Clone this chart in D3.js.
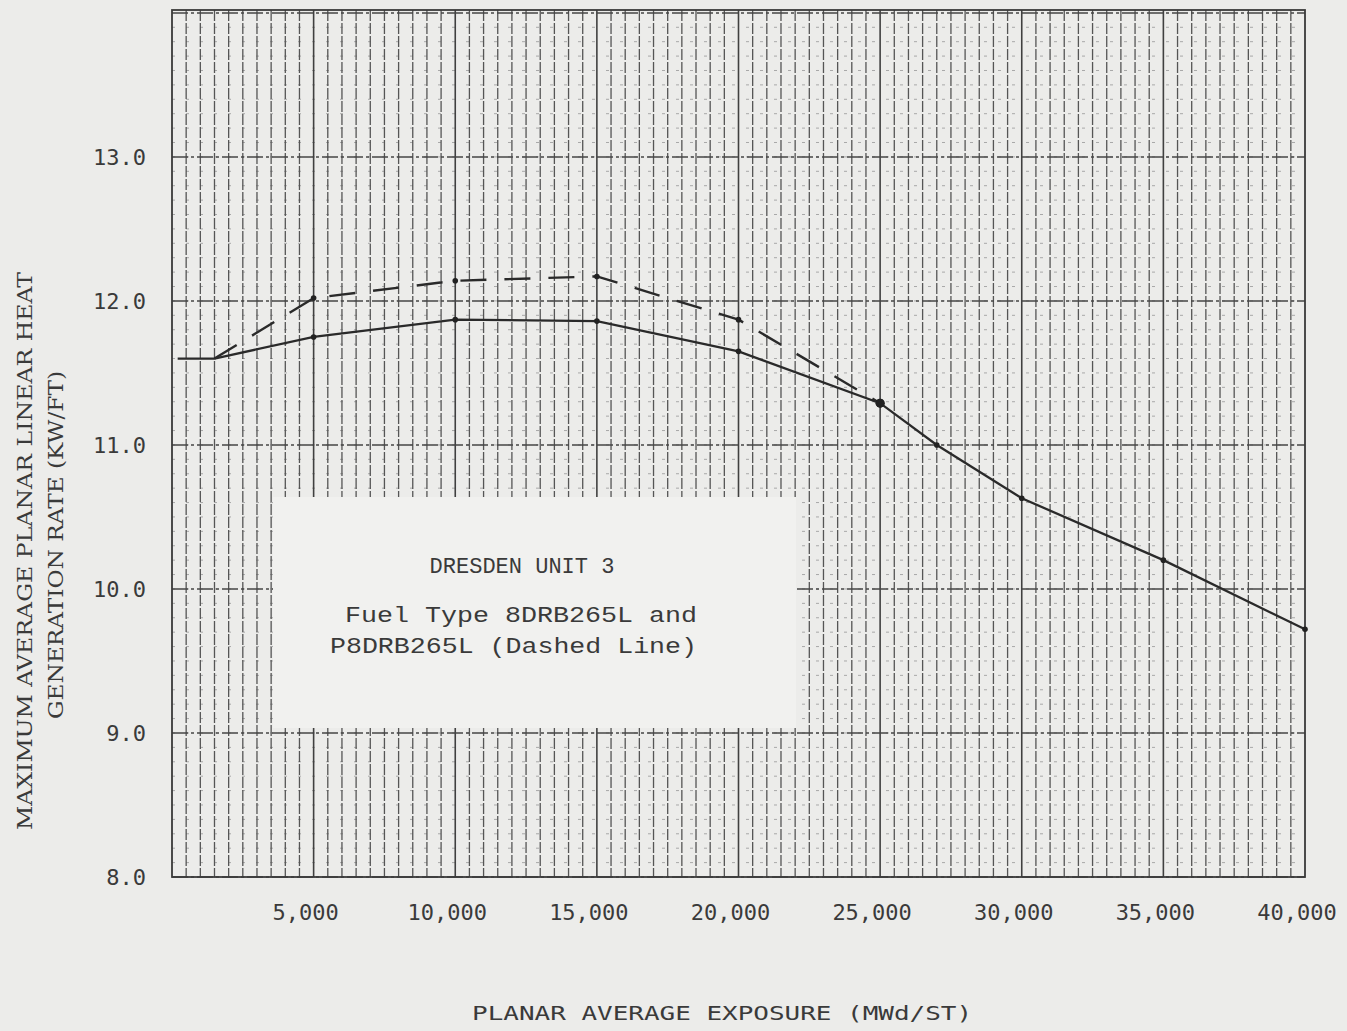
<!DOCTYPE html>
<html>
<head>
<meta charset="utf-8">
<script src="https://cdn.jsdelivr.net/npm/d3@7"></script>
<style>
  body { margin: 0; background: #ececea; }
  svg { display: block; }
</style>
</head>
<body>
<div id="chart"></div>
<script>
// exposure (MWd/ST) and MAPLHGR (KW/FT)
var solidX = [200, 1500, 5000, 10000, 15000, 20000, 25000, 27000, 30000, 35000, 40000];
var solidY = [11.6, 11.6, 11.75, 11.87, 11.86, 11.65, 11.29, 11.0, 10.63, 10.2, 9.72];
var dashX = [1500, 5000, 10000, 15000, 20000, 25000];
var dashY = [11.6, 12.02, 12.14, 12.17, 11.87, 11.29];

var xTicks = [5000, 10000, 15000, 20000, 25000, 30000, 35000, 40000];
var yTicks = [8, 9, 10, 11, 12, 13];

var w = 1347, h = 1031;
var padL = 172, padR = 1305, padT = 10, padB = 877;
var ink = '#3a3a3a';

var svg = d3.select('#chart').append('svg')
    .attr('width', w)
    .attr('height', h);

var x = d3.scaleLinear().domain([0, 40000]).range([padL, padR]);
var y = d3.scaleLinear().domain([8, 14.02]).range([padB, padT]);

var grid = svg.append('g');

// faint minor horizontals every 0.1
grid.selectAll('.hmin')
    .data(d3.range(80, 140).map(function(d){ return d / 10; }))
    .enter().append('line')
    .attr('x1', padL).attr('x2', padR)
    .attr('y1', function(d){ return y(d); })
    .attr('y2', function(d){ return y(d); })
    .attr('stroke', '#a8a8a8')
    .attr('stroke-width', 1)
    .attr('stroke-dasharray', '3,11');

// vertical lines every 500
grid.selectAll('.vmin')
    .data(d3.range(500, 40000, 500))
    .enter().append('line')
    .attr('x1', function(d){ return x(d); })
    .attr('x2', function(d){ return x(d); })
    .attr('y1', padT).attr('y2', padB)
    .attr('stroke', function(d){ return d % 5000 == 0 ? '#404040' : '#555'; })
    .attr('stroke-width', function(d){ return d % 5000 == 0 ? 1.6 : 1.3; })
    .attr('stroke-dasharray', function(d){ return d % 5000 == 0 ? null : '11,2'; });

// major horizontals every 1.0
grid.selectAll('.hmaj')
    .data(yTicks.concat([14]))
    .enter().append('line')
    .attr('x1', padL).attr('x2', padR)
    .attr('y1', function(d){ return y(d); })
    .attr('y2', function(d){ return y(d); })
    .attr('stroke', '#454545')
    .attr('stroke-width', 1.5)
    .attr('stroke-dasharray', '16,3,3,3');

// frame
svg.append('rect')
    .attr('x', padL).attr('y', padT)
    .attr('width', padR - padL).attr('height', padB - padT)
    .attr('fill', 'none')
    .attr('stroke', ink)
    .attr('stroke-width', 1.8);

// note box
var box = svg.append('g');
box.append('rect')
    .attr('x', 273).attr('y', 497)
    .attr('width', 523).attr('height', 231)
    .attr('fill', '#f1f1ef');

var noteFont = '"Liberation Mono", "DejaVu Sans Mono", monospace';
box.append('text')
    .attr('x', 522).attr('y', 573)
    .attr('text-anchor', 'middle')
    .attr('font-family', noteFont).attr('font-size', 22)
    .attr('fill', ink)
    .text('DRESDEN UNIT 3');
box.append('text')
    .attr('x', 345).attr('y', 622)
    .attr('font-family', noteFont).attr('font-size', 22)
    .attr('textLength', 352).attr('lengthAdjust', 'spacingAndGlyphs')
    .attr('fill', ink)
    .text('Fuel Type 8DRB265L and');
box.append('text')
    .attr('x', 330).attr('y', 653)
    .attr('font-family', noteFont).attr('font-size', 22)
    .attr('textLength', 367).attr('lengthAdjust', 'spacingAndGlyphs')
    .attr('fill', ink)
    .text('P8DRB265L (Dashed Line)');

// curves
var line = d3.line()
    .x(function(d){ return x(d[0]); })
    .y(function(d){ return y(d[1]); });

var solid = solidX.map(function(d, i){ return [d, solidY[i]]; });
var dashed = dashX.map(function(d, i){ return [d, dashY[i]]; });

svg.append('path')
    .datum(dashed)
    .attr('d', line)
    .attr('fill', 'none')
    .attr('stroke', '#2a2a2a')
    .attr('stroke-width', 2.4)
    .attr('stroke-dasharray', '26,18');

svg.append('path')
    .datum(solid)
    .attr('d', line)
    .attr('fill', 'none')
    .attr('stroke', '#2a2a2a')
    .attr('stroke-width', 2.3);

svg.selectAll('.pt')
    .data(solid.slice(2).concat(dashed.slice(1)))
    .enter().append('circle')
    .attr('cx', function(d){ return x(d[0]); })
    .attr('cy', function(d){ return y(d[1]); })
    .attr('r', function(d){ return d[0] == 25000 ? 4.5 : 2.8; })
    .attr('fill', '#222');

// tick labels
var tickFont = '"DejaVu Sans Mono", monospace';
svg.append('g').selectAll('text')
    .data(xTicks)
    .enter().append('text')
    .attr('x', function(d){ return x(d) - 8; })
    .attr('y', 920)
    .attr('text-anchor', 'middle')
    .attr('font-family', tickFont).attr('font-size', 22)
    .attr('fill', ink)
    .text(function(d){ return d3.format(',')(d); });

svg.append('g').selectAll('text')
    .data(yTicks)
    .enter().append('text')
    .attr('x', 146)
    .attr('y', function(d){ return y(d) + 8; })
    .attr('text-anchor', 'end')
    .attr('font-family', tickFont).attr('font-size', 22)
    .attr('fill', ink)
    .text(function(d){ return d3.format('.1f')(d); });

// axis titles
svg.append('text')
    .attr('x', 722).attr('y', 1020)
    .attr('text-anchor', 'middle')
    .attr('font-family', tickFont).attr('font-size', 20)
    .attr('textLength', 500).attr('lengthAdjust', 'spacingAndGlyphs')
    .attr('fill', ink)
    .text('PLANAR AVERAGE EXPOSURE (MWd/ST)');

var yFont = '"DejaVu Serif Condensed", "DejaVu Serif", serif';
svg.append('text')
    .attr('transform', 'translate(32,551) rotate(-90)')
    .attr('text-anchor', 'middle')
    .attr('font-family', yFont).attr('font-size', 21)
    .attr('textLength', 558).attr('lengthAdjust', 'spacingAndGlyphs')
    .attr('fill', ink)
    .text('MAXIMUM AVERAGE PLANAR LINEAR HEAT');
svg.append('text')
    .attr('transform', 'translate(63,545) rotate(-90)')
    .attr('text-anchor', 'middle')
    .attr('font-family', yFont).attr('font-size', 21)
    .attr('textLength', 348).attr('lengthAdjust', 'spacingAndGlyphs')
    .attr('fill', ink)
    .text('GENERATION RATE (KW/FT)');
</script>
</body>
</html>
